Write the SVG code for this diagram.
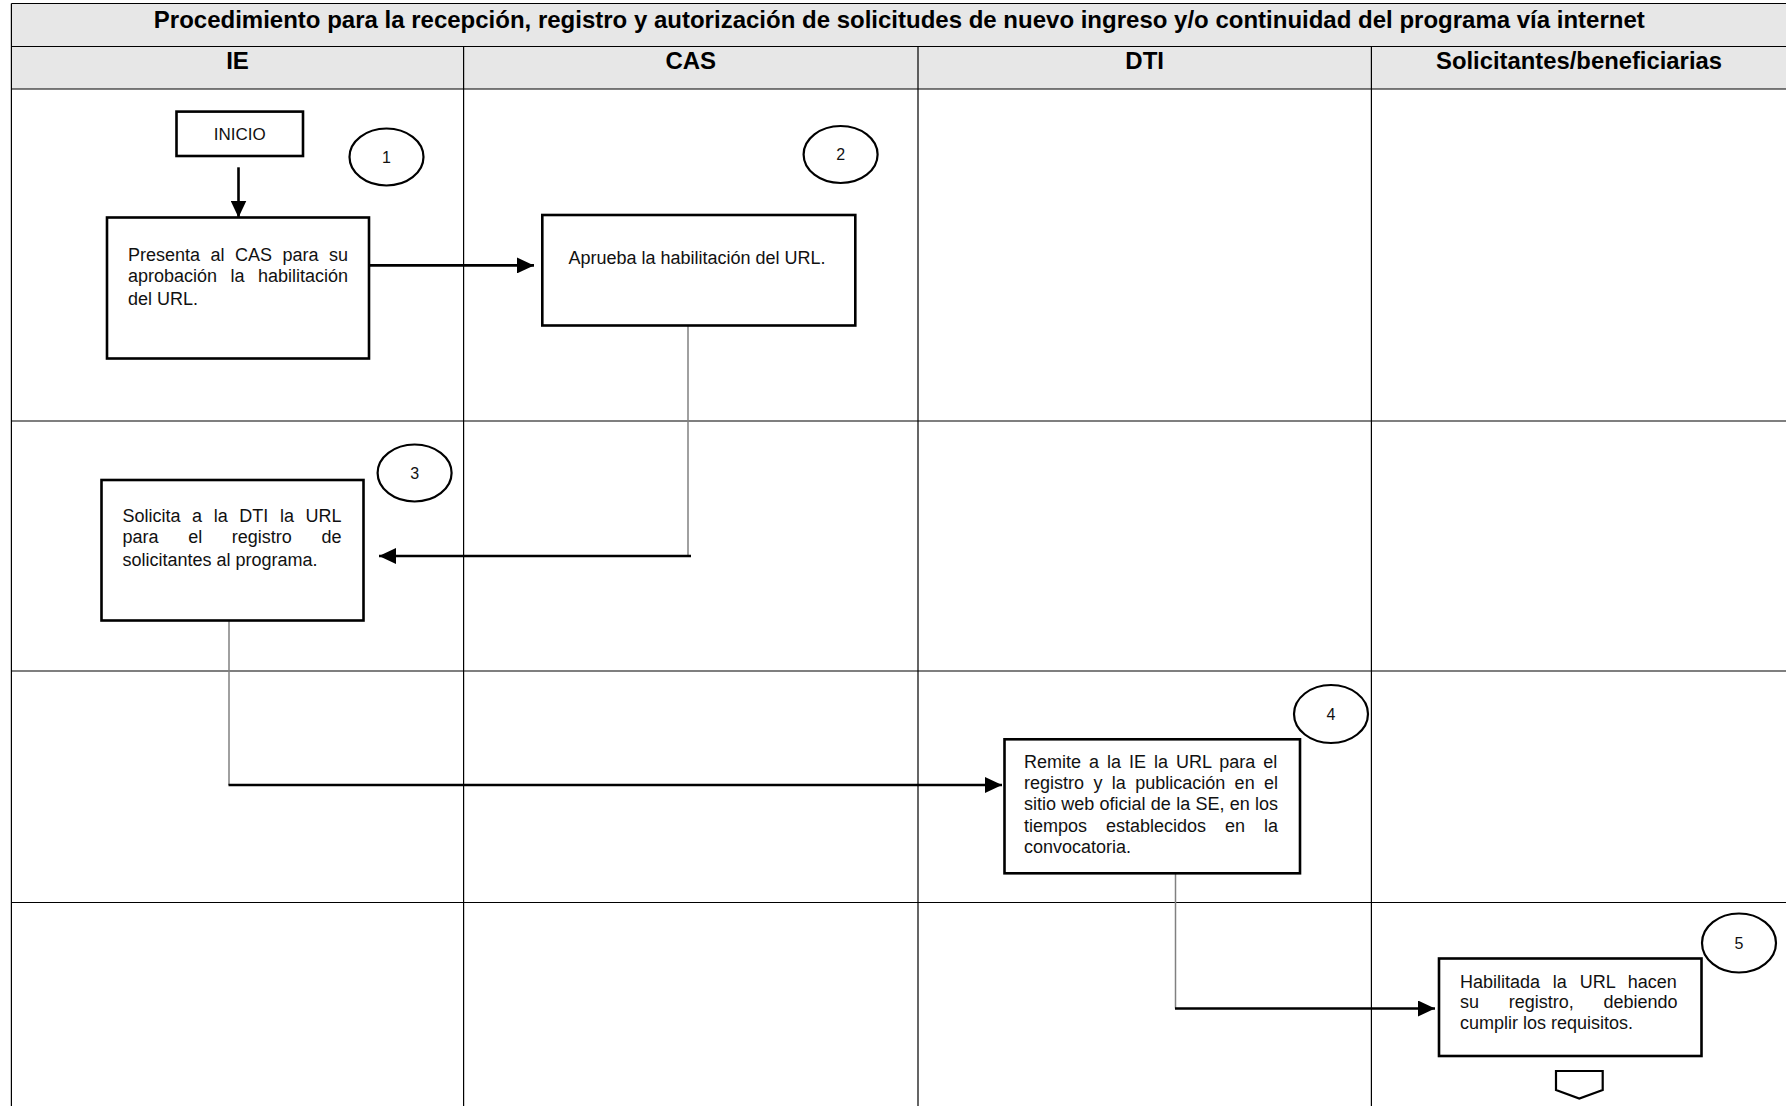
<svg xmlns="http://www.w3.org/2000/svg" width="1786" height="1106" viewBox="0 0 1786 1106">
<style>
.grid{stroke:#000;stroke-width:1.2;fill:none}
.band{fill:#e7e7e7}
.head{font-family:'Liberation Sans',Arial,sans-serif;font-weight:bold;font-size:24px;fill:#000;text-anchor:middle}
.box{fill:#fff;stroke:#000;stroke-width:2.6}
.txt{font-family:'Liberation Sans',Arial,sans-serif;font-size:18px;fill:#111}
.mid{text-anchor:middle}
.step{fill:#fff;stroke:#000;stroke-width:2.2}
.num{font-family:'Liberation Sans',Arial,sans-serif;font-size:16px;fill:#111;text-anchor:middle}
.flow{stroke:#000;stroke-width:2.6;fill:none}
.lead{stroke:#808080;stroke-width:1.5;fill:none}
</style>
<defs>
<marker id="ah" markerUnits="userSpaceOnUse" markerWidth="18" markerHeight="16" refX="17" refY="8" orient="auto">
<path d="M0,0 L17,8 L0,16 Z" fill="#000"/>
</marker>
</defs>
<rect width="1786" height="1106" fill="#fff"/>
<g id="table">
<rect class="band" x="11.4" y="3.5" width="1780" height="85.5"/>
<path class="grid" d="M11.4,3.5H1790M11.4,46.5H1790M11.4,89H1790M11.4,421H1790M11.4,671H1790M11.4,902.5H1790M11.4,3.5V1106M463.6,46.5V1106M918,46.5V1106M1371.4,46.5V1106"/>
<text class="head" x="153.8" y="28" style="text-anchor:start" textLength="1491" lengthAdjust="spacingAndGlyphs">Procedimiento para la recepción, registro y autorización de solicitudes de nuevo ingreso y/o continuidad del programa vía internet</text>
<text class="head" x="237.5" y="69">IE</text>
<text class="head" x="690.8" y="69">CAS</text>
<text class="head" x="1144.7" y="69">DTI</text>
<text class="head" x="1436" y="69" style="text-anchor:start" textLength="286" lengthAdjust="spacingAndGlyphs">Solicitantes/beneficiarias</text>
</g>
<g id="connectors">
<path class="flow" d="M238.5,167.3V217.5" marker-end="url(#ah)"/>
<path class="flow" d="M369,265.4H534" marker-end="url(#ah)"/>
<path class="lead" d="M688,325.7V556"/>
<path class="flow" d="M691,556H379" marker-end="url(#ah)"/>
<path class="lead" d="M229,620.8V785"/>
<path class="flow" d="M228.5,785H1002" marker-end="url(#ah)"/>
<path class="lead" d="M1175.5,873.6V1008.5"/>
<path class="flow" d="M1175,1008.5H1435" marker-end="url(#ah)"/>
</g>
<g id="inicio">
<rect class="box" x="176.5" y="111.6" width="126.5" height="44.4"/>
<text class="txt mid" x="239.7" y="140" style="font-size:17px">INICIO</text>
</g>
<g id="step1">
<ellipse class="step" cx="386.5" cy="157" rx="37" ry="28.5"/>
<text class="num" x="386.5" y="162.5">1</text>
</g>
<g id="box1">
<rect class="box" x="107" y="217.5" width="262" height="141"/>
<text class="txt" x="128" y="260.5" word-spacing="5.48">Presenta al CAS para su</text>
<text class="txt" x="128" y="281.5" word-spacing="8.45">aprobación la habilitación</text>
<text class="txt" x="128" y="304.5">del URL.</text>
</g>
<g id="step2">
<ellipse class="step" cx="840.6" cy="154.5" rx="37" ry="28.5"/>
<text class="num" x="840.6" y="160">2</text>
</g>
<g id="box2">
<rect class="box" x="542.3" y="215" width="313" height="110.5"/>
<text class="txt mid" x="697" y="263.5">Aprueba la habilitación del URL.</text>
</g>
<g id="step3">
<ellipse class="step" cx="414.6" cy="473" rx="37" ry="28.5"/>
<text class="num" x="414.6" y="478.5">3</text>
</g>
<g id="box3">
<rect class="box" x="101.5" y="480" width="262" height="140.5"/>
<text class="txt" x="122.5" y="521.5" word-spacing="6.59">Solicita a la DTI la URL</text>
<text class="txt" x="122.5" y="543" word-spacing="24.65">para el registro de</text>
<text class="txt" x="122.5" y="565.5">solicitantes al programa.</text>
</g>
<g id="step4">
<ellipse class="step" cx="1331" cy="714" rx="37" ry="29"/>
<text class="num" x="1331" y="719.5">4</text>
</g>
<g id="box4">
<rect class="box" x="1004.5" y="739.3" width="295.5" height="134"/>
<text class="txt" x="1024" y="767.8" word-spacing="2.99">Remite a la IE la URL para el</text>
<text class="txt" x="1024" y="789.1" word-spacing="4.38">registro y la publicación en el</text>
<text class="txt" x="1024" y="810.4" word-spacing="0.27">sitio web oficial de la SE, en los</text>
<text class="txt" x="1024" y="831.7" word-spacing="13.97">tiempos establecidos en la</text>
<text class="txt" x="1024" y="853">convocatoria.</text>
</g>
<g id="step5">
<ellipse class="step" cx="1739" cy="943" rx="37" ry="29.5"/>
<text class="num" x="1739" y="948.5">5</text>
</g>
<g id="box5">
<rect class="box" x="1439" y="958.5" width="262.5" height="97.5"/>
<text class="txt" x="1460" y="987.5" word-spacing="7.81">Habilitada la URL hacen</text>
<text class="txt" x="1460" y="1008" word-spacing="24.71">su registro, debiendo</text>
<text class="txt" x="1460" y="1028.5">cumplir los requisitos.</text>
</g>
<g id="offpage">
<path class="step" d="M1556,1071H1602.7V1090L1579.3,1098.5L1556,1090Z"/>
</g>
</svg>
